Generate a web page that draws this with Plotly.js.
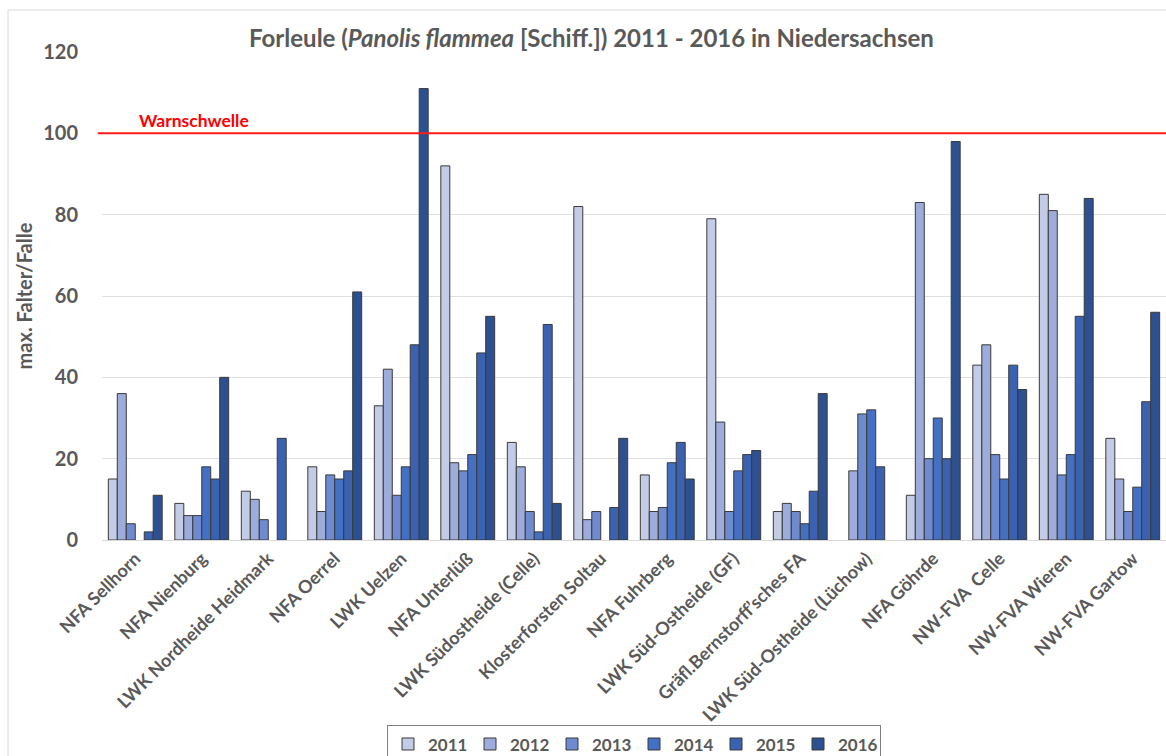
<!DOCTYPE html>
<html>
<head>
<meta charset="utf-8">
<script src="https://cdn.plot.ly/plotly-3.0.1.min.js"></script>
<style>
  html, body { margin: 0; padding: 0; background: #ffffff; }
  #chart { width: 1166px; height: 756px; }
</style>
</head>
<body>
<div id="chart"></div>
<script>
const categories = [
  "NFA Sellhorn", "NFA Nienburg", "LWK Nordheide Heidmark", "NFA Oerrel",
  "LWK Uelzen", "NFA Unterlüß", "LWK Südostheide (Celle)", "Klosterforsten Soltau",
  "NFA Fuhrberg", "LWK Süd-Ostheide (GF)", "Gräfl.Bernstorff’sches FA",
  "LWK Süd-Ostheide (Lüchow)", "NFA Göhrde", "NW-FVA  Celle", "NW-FVA Wieren", "NW-FVA Gartow"
];
const years = ["2011", "2012", "2013", "2014", "2015", "2016"];
const v2011 = [15, 9, 12, 18, 33, 92, 24, 82, 16, 79, 7, null, 11, 43, 85, 25];
const v2012 = [36, 6, 10, 7, 42, 19, 18, 5, 7, 29, 9, 17, 83, 48, 81, 15];
const v2013 = [4, 6, 5, 16, 11, 17, 7, 7, 8, 7, 7, 31, 20, 21, 16, 7];
const v2014 = [null, 18, null, 15, 18, 21, 2, null, 19, 17, 4, 32, 30, 15, 21, 13];
const v2015 = [2, 15, 25, 17, 48, 46, 53, 8, 24, 21, 12, 18, 20, 43, 55, 34];
const v2016 = [11, 40, null, 61, 111, 55, 9, 25, 15, 22, 36, null, 98, 37, 84, 56];
const seriesValues = [v2011, v2012, v2013, v2014, v2015, v2016];
const seriesColors = ["#C3CCE6", "#9DACDA", "#6E8BD0", "#4470C4", "#3A62B0", "#2D5090"];
const yTicks = [0, 20, 40, 60, 80, 100, 120];
const thresholdValue = 100;
const thresholdLabel = "Warnschwelle";

const FONT = "Lato, 'Open Sans', sans-serif";
const GRAY = "#595959";

const traces = years.map((yr, i) => ({
  type: "bar",
  name: yr,
  x: categories,
  y: seriesValues[i],
  marker: { color: seriesColors[i], line: { color: "#3A3A3A", width: 1 } },
  hoverinfo: "x+y+name"
}));

const layout = {
  width: 1166,
  height: 756,
  paper_bgcolor: "#ffffff",
  plot_bgcolor: "#ffffff",
  margin: { l: 102, r: 0, t: 52, b: 216, autoexpand: false },
  barmode: "group",
  bargap: 0.19,
  bargroupgap: 0,
  title: {
    text: "Forleule (<i>Panolis flammea</i> [Schiff.]) 2011 - 2016 in Niedersachsen",
    font: { family: FONT, size: 24, color: GRAY, weight: "bold" },
    xref: "paper", x: 0.46, xanchor: "center",
    yref: "container", y: 1 - 39 / 756, yanchor: "middle"
  },
  xaxis: {
    type: "category",
    tickangle: -45,
    tickfont: { family: FONT, size: 18, color: GRAY, weight: "bold" },
    showgrid: false,
    showline: true,
    linecolor: "#D9D9D9",
    linewidth: 1,
    ticks: "",
    ticklabelstandoff: 0,
    automargin: false
  },
  yaxis: {
    range: [0, 120],
    tickvals: yTicks,
    ticktext: yTicks.map(String),
    tickfont: { family: FONT, size: 20, color: GRAY, weight: "bold" },
    showgrid: true,
    gridcolor: "#E0E0E0",
    gridwidth: 1,
    zeroline: false,
    showline: false,
    ticks: "",
    ticklabelstandoff: 23,
    automargin: false,
    title: {
      text: "max. Falter/Falle",
      font: { family: FONT, size: 20, color: GRAY, weight: "bold" },
      standoff: 5
    }
  },
  legend: {
    orientation: "h",
    x: 0.5, xanchor: "center",
    xref: "paper",
    y: -0.38, yanchor: "top",
    font: { family: FONT, size: 17, color: GRAY, weight: "bold" },
    bordercolor: "#7F7F7F",
    borderwidth: 1,
    itemwidth: 30,
    entrywidth: 37,
    entrywidthmode: "pixels",
    traceorder: "normal"
  },
  shapes: [
    {
      type: "line", xref: "paper", yref: "y",
      x0: -0.004, x1: 1, y0: thresholdValue, y1: thresholdValue,
      line: { color: "#FF1A1A", width: 2 }
    },
    {
      type: "rect", xref: "paper", yref: "paper",
      x0: -0.0883, x1: 1.2, y0: -0.6, y1: 1.086,
      line: { color: "#D9D9D9", width: 1 },
      layer: "below"
    }
  ],
  annotations: [
    {
      text: thresholdLabel,
      xref: "paper", x: 0.033, xanchor: "left",
      yref: "y", y: thresholdValue, yanchor: "bottom", yshift: 0,
      showarrow: false,
      font: { family: FONT, size: 17.5, color: "#FF0000", weight: "bold" }
    }
  ]
};

Plotly.newPlot("chart", traces, layout, { displayModeBar: false, staticPlot: true });
</script>
</body>
</html>
